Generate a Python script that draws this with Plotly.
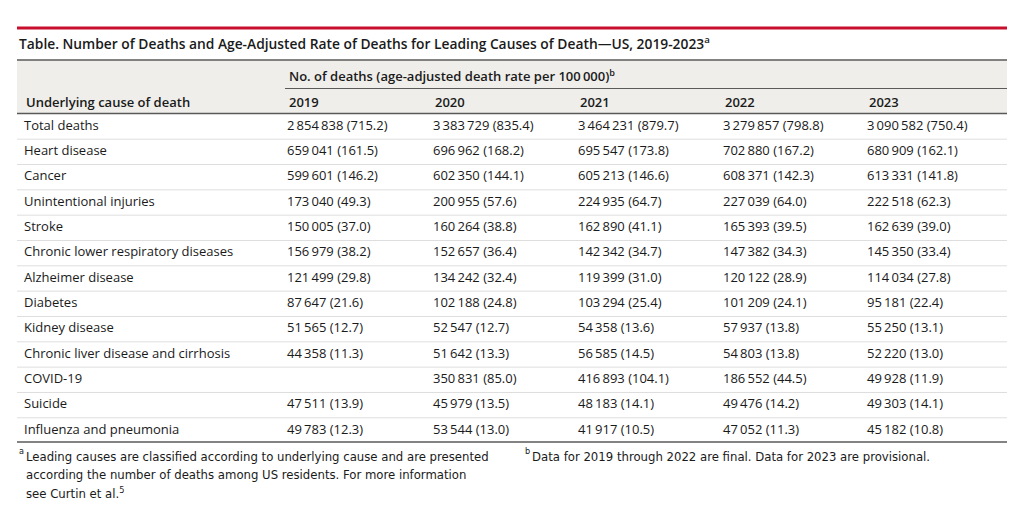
import plotly.graph_objects as go

# ---------------- data ----------------
causes = [
    "Total deaths", "Heart disease", "Cancer", "Unintentional injuries", "Stroke",
    "Chronic lower respiratory diseases", "Alzheimer disease", "Diabetes",
    "Kidney disease", "Chronic liver disease and cirrhosis", "COVID-19",
    "Suicide", "Influenza and pneumonia",
]
years = ["2019", "2020", "2021", "2022", "2023"]
deaths_2019 = [2854838, 659041, 599601, 173040, 150005, 156979, 121499, 87647, 51565, 44358, None, 47511, 49783]
rates_2019 = [715.2, 161.5, 146.2, 49.3, 37.0, 38.2, 29.8, 21.6, 12.7, 11.3, None, 13.9, 12.3]
deaths_2020 = [3383729, 696962, 602350, 200955, 160264, 152657, 134242, 102188, 52547, 51642, 350831, 45979, 53544]
rates_2020 = [835.4, 168.2, 144.1, 57.6, 38.8, 36.4, 32.4, 24.8, 12.7, 13.3, 85.0, 13.5, 13.0]
deaths_2021 = [3464231, 695547, 605213, 224935, 162890, 142342, 119399, 103294, 54358, 56585, 416893, 48183, 41917]
rates_2021 = [879.7, 173.8, 146.6, 64.7, 41.1, 34.7, 31.0, 25.4, 13.6, 14.5, 104.1, 14.1, 10.5]
deaths_2022 = [3279857, 702880, 608371, 227039, 165393, 147382, 120122, 101209, 57937, 54803, 186552, 49476, 47052]
rates_2022 = [798.8, 167.2, 142.3, 64.0, 39.5, 34.3, 28.9, 24.1, 13.8, 13.8, 44.5, 14.2, 11.3]
deaths_2023 = [3090582, 680909, 613331, 222518, 162639, 145350, 114034, 95181, 55250, 52220, 49928, 49303, 45182]
rates_2023 = [750.4, 162.1, 141.8, 62.3, 39.0, 33.4, 27.8, 22.4, 13.1, 13.0, 11.9, 14.1, 10.8]

title_text = "Table. Number of Deaths and Age-Adjusted Rate of Deaths for Leading Causes of Death\u2014US, 2019-2023<sup>a</sup>"
stub_header = "Underlying cause of death"
span_header = "No. of deaths (age-adjusted death rate per 100\u2009000)<sup>b</sup>"
footnote_a = ["Leading causes are classified according to underlying cause and are presented",
              "according the number of deaths among US residents. For more information",
              "see Curtin et al.<sup>5</sup>"]
footnote_b = "Data for 2019 through 2022 are final. Data for 2023 are provisional."

deaths_by_year = [deaths_2019, deaths_2020, deaths_2021, deaths_2022, deaths_2023]
rates_by_year = [rates_2019, rates_2020, rates_2021, rates_2022, rates_2023]

# ---------------- layout constants (page pixels) ----------------
OFF = 8                       # browser body margin
W, H = 1024 - 2 * OFF, 515 - 2 * OFF
LEFT, RIGHT = 17, 1007
LABEL_X = 24
COL_X = [287, 433, 578, 723, 867]
ROW_Y0, ROW_H = 126.5, 25.33
RED = "#c8102e"
DARK = "#5a5a5a"
TXT = "#1a1a1a"
HEAD_BG = "#efeeea"
SEP = "#dedede"
FONT = "Open Sans"
NARROW = "DejaVu Sans Condensed"


def fmt(d, r):
    if d is None:
        return " "
    return f"{d:,}".replace(",", "\u2009") + f" ({r:.1f})"


row_y = [ROW_Y0 + i * ROW_H for i in range(len(causes))]

fig = go.Figure()

# stub column
fig.add_trace(go.Scatter(
    x=[LABEL_X] * len(causes), y=row_y, text=causes, mode="text",
    textposition="middle right", textfont=dict(family=FONT, size=13, color=TXT),
    hoverinfo="skip", showlegend=False))

# year columns
for j, yr in enumerate(years):
    fig.add_trace(go.Scatter(
        x=[COL_X[j]] * len(causes), y=row_y,
        text=[fmt(d, r) for d, r in zip(deaths_by_year[j], rates_by_year[j])],
        mode="text", textposition="middle right",
        textfont=dict(family=FONT, size=13, color=TXT),
        hoverinfo="skip", showlegend=False, name=yr))

shapes = []
# header background
shapes.append(dict(type="rect", xref="x", yref="y", x0=LEFT, x1=RIGHT, y0=60, y1=113.5,
                   fillcolor=HEAD_BG, line=dict(width=0), layer="below"))
# red top rule
shapes.append(dict(type="line", xref="x", yref="y", x0=LEFT, x1=RIGHT, y0=28, y1=28,
                   line=dict(color=RED, width=3)))
# dark rules
for yy in (60, 113.5, 442):
    shapes.append(dict(type="line", xref="x", yref="y", x0=LEFT, x1=RIGHT, y0=yy, y1=yy,
                       line=dict(color=DARK, width=1.5)))
# spanner rule
shapes.append(dict(type="line", xref="x", yref="y", x0=COL_X[0] - 2, x1=RIGHT, y0=88.5, y1=88.5,
                   line=dict(color=DARK, width=1.2)))
# row separators
for i in range(len(causes) - 1):
    yy = ROW_Y0 + (i + 0.5) * ROW_H
    shapes.append(dict(type="line", xref="x", yref="y", x0=LEFT, x1=RIGHT, y0=yy, y1=yy,
                       line=dict(color=SEP, width=1), layer="below"))

ann = []
ann.append(dict(x=LEFT, y=43, xref="x", yref="y", text=title_text, showarrow=False,
                xanchor="left", yanchor="middle",
                font=dict(family=FONT, size=13.8, color=TXT, weight=600)))
ann.append(dict(x=COL_X[0], y=75, xref="x", yref="y", text=span_header, showarrow=False,
                xanchor="left", yanchor="middle",
                font=dict(family=FONT, size=13, color=TXT, weight=600)))
ann.append(dict(x=LABEL_X, y=102, xref="x", yref="y", text=stub_header, showarrow=False,
                xanchor="left", yanchor="middle",
                font=dict(family=FONT, size=13, color=TXT, weight=600)))
for j, yr in enumerate(years):
    ann.append(dict(x=COL_X[j], y=102, xref="x", yref="y", text=yr, showarrow=False,
                    xanchor="left", yanchor="middle",
                    font=dict(family=FONT, size=13, color=TXT, weight=600)))
# footnotes
ann.append(dict(x=LEFT, y=451, xref="x", yref="y", text="a", showarrow=False,
                xanchor="left", yanchor="middle", font=dict(family=NARROW, size=9, color=TXT)))
for k, line in enumerate(footnote_a):
    ann.append(dict(x=LABEL_X, y=456 + k * 18.5, xref="x", yref="y", text=line, showarrow=False,
                    xanchor="left", yanchor="middle", font=dict(family=NARROW, size=13, color=TXT)))
ann.append(dict(x=523, y=451, xref="x", yref="y", text="b", showarrow=False,
                xanchor="left", yanchor="middle", font=dict(family=NARROW, size=9, color=TXT)))
ann.append(dict(x=530, y=456, xref="x", yref="y", text=footnote_b, showarrow=False,
                xanchor="left", yanchor="middle", font=dict(family=NARROW, size=13, color=TXT)))

fig.update_layout(
    width=W, height=H, margin=dict(l=0, r=0, t=0, b=0),
    paper_bgcolor="white", plot_bgcolor="white",
    xaxis=dict(range=[OFF, OFF + W], visible=False, fixedrange=True),
    yaxis=dict(range=[OFF + H, OFF], visible=False, fixedrange=True),
    shapes=shapes, annotations=ann, showlegend=False,
)

fig.write_html("out.html", config={"displayModeBar": False})
